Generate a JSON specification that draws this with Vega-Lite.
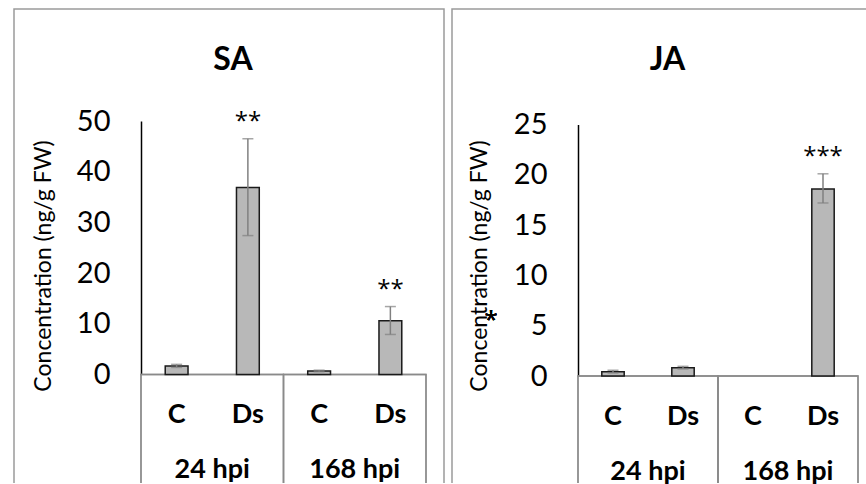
{
  "$schema": "https://vega.github.io/schema/vega-lite/v6.json",
  "padding": {"left": 13, "top": 8, "right": 0, "bottom": 0},
  "spacing": 6,
  "config": {"font": "Lato", "background": "white"},
  "hconcat": [
    {
      "width": 430,
      "height": 474,
      "view": {"stroke": "#9a9a9a", "strokeWidth": 1.5, "strokeDash": [904, 430, 474]},
      "title": {"text": "SA", "fontSize": 32, "fontWeight": "bold", "color": "#000", "anchor": "middle", "frame": "group", "offset": -68, "dx": 4},
      "data": {"values": [
        {"grp": "24 hpi", "key": "24 hpi|C", "mean": 1.7, "lo": 1.4, "hi": 2.0, "sig": ""},
        {"grp": "24 hpi", "key": "24 hpi|Ds", "mean": 36.9, "lo": 27.4, "hi": 46.5, "sig": "**"},
        {"grp": "168 hpi", "key": "168 hpi|C", "mean": 0.7, "lo": 0.55, "hi": 0.85, "sig": ""},
        {"grp": "168 hpi", "key": "168 hpi|Ds", "mean": 10.6, "lo": 7.9, "hi": 13.4, "sig": "**"}
      ]},
      "layer": [
        {
          "mark": {"type": "rect", "clip": true, "fillOpacity": 0, "stroke": "#8a8a8a", "strokeWidth": 1.3},
          "encoding": {
            "x": {"field": "grp", "type": "nominal", "sort": ["24 hpi", "168 hpi"],
                  "scale": {"domain": ["24 hpi", "168 hpi"], "range": [127, 412], "paddingInner": 0, "paddingOuter": 0},
                  "axis": {"orient": "bottom", "offset": -108.5, "title": null, "domain": false, "ticks": false, "labelPadding": 82, "labelFontSize": 27, "labelFontWeight": "bold", "labelColor": "#000", "labelAngle": 0}},
            "y": {"datum": 0, "type": "quantitative",
                  "scale": {"domain": [0, 50], "range": [365.5, 112], "nice": false},
                  "axis": {"orient": "left", "offset": -127, "values": [0, 10, 20, 30, 40, 50], "grid": false, "ticks": false, "tickSize": 0, "domainColor": "#000", "domainWidth": 1.5, "labelPadding": 31, "labelFontSize": 29, "labelColor": "#000", "title": "Concentration (ng/g FW)", "titleFontSize": 23, "titleFontWeight": "normal", "titleColor": "#000", "titleX": -86, "titleY": 256.5}},
            "y2": {"datum": -40}
          }
        },
        {
          "encoding": {
            "x": {"field": "key", "type": "nominal", "sort": ["24 hpi|C", "24 hpi|Ds", "168 hpi|C", "168 hpi|Ds"],
                  "scale": {"domain": ["24 hpi|C", "24 hpi|Ds", "168 hpi|C", "168 hpi|Ds"], "range": [127, 412], "paddingInner": 0.68, "paddingOuter": 0.34},
                  "axis": {"orient": "bottom", "offset": -108.5, "title": null, "domain": false, "ticks": false, "labelPadding": 27, "labelFontSize": 27, "labelFontWeight": "bold", "labelColor": "#000", "labelAngle": 0, "labelExpr": "split(datum.label, '|')[1]"}}
          },
          "layer": [
            {"mark": {"type": "bar", "fill": "#b8b8b8", "stroke": "#1a1a1a", "strokeWidth": 1.5},
             "encoding": {"y": {"field": "mean", "type": "quantitative"}}},
            {"mark": {"type": "rule", "color": "#808080", "strokeWidth": 1.5},
             "encoding": {"y": {"field": "lo", "type": "quantitative"}, "y2": {"field": "hi"}}},
            {"mark": {"type": "tick", "color": "#808080", "thickness": 1.5, "size": 11, "orient": "horizontal"},
             "encoding": {"y": {"field": "hi", "type": "quantitative"}}},
            {"mark": {"type": "tick", "color": "#808080", "thickness": 1.5, "size": 11, "orient": "horizontal"},
             "encoding": {"y": {"field": "lo", "type": "quantitative"}}},
            {"transform": [{"filter": "datum.sig != ''"}],
             "mark": {"type": "text", "font": "Open Sans", "fontSize": 24, "baseline": "alphabetic", "dy": -10, "color": "#000"},
             "encoding": {"y": {"field": "hi", "type": "quantitative"}, "text": {"field": "sig"}}}
          ]
        }
      ],
      "resolve": {"scale": {"x": "independent"}, "axis": {"x": "independent"}}
    },
    {
      "width": 415,
      "height": 474,
      "view": {"stroke": "#9a9a9a", "strokeWidth": 1.5, "strokeDash": [415, 889, 474]},
      "title": {"text": "JA", "fontSize": 32, "fontWeight": "bold", "color": "#000", "anchor": "middle", "frame": "group", "offset": -68, "dx": 8},
      "data": {"values": [
        {"grp": "24 hpi", "key": "24 hpi|C", "mean": 0.43, "lo": 0.3, "hi": 0.57, "sig": ""},
        {"grp": "24 hpi", "key": "24 hpi|Ds", "mean": 0.83, "lo": 0.7, "hi": 0.96, "sig": ""},
        {"grp": "168 hpi", "key": "168 hpi|C", "mean": 0, "lo": 0, "hi": 0, "sig": ""},
        {"grp": "168 hpi", "key": "168 hpi|Ds", "mean": 18.6, "lo": 17.2, "hi": 20.1, "sig": "***"}
      ]},
      "layer": [
        {
          "mark": {"type": "rect", "clip": true, "fillOpacity": 0, "stroke": "#8a8a8a", "strokeWidth": 1.3},
          "encoding": {
            "x": {"field": "grp", "type": "nominal", "sort": ["24 hpi", "168 hpi"],
                  "scale": {"domain": ["24 hpi", "168 hpi"], "range": [126, 406], "paddingInner": 0, "paddingOuter": 0},
                  "axis": {"orient": "bottom", "offset": -107, "title": null, "domain": false, "ticks": false, "labelPadding": 82, "labelFontSize": 27, "labelFontWeight": "bold", "labelColor": "#000", "labelAngle": 0}},
            "y": {"datum": 0, "type": "quantitative",
                  "scale": {"domain": [0, 25], "range": [367, 115.5], "nice": false},
                  "axis": {"orient": "left", "offset": -126, "values": [0, 5, 10, 15, 20, 25], "grid": false, "ticks": false, "tickSize": 0, "domainColor": "#000", "domainWidth": 1.5, "labelPadding": 31, "labelFontSize": 29, "labelColor": "#000", "title": "Concentration (ng/g FW)", "titleFontSize": 23, "titleFontWeight": "normal", "titleColor": "#000", "titleX": -87, "titleY": 256.5}},
            "y2": {"datum": -20}
          }
        },
        {
          "encoding": {
            "x": {"field": "key", "type": "nominal", "sort": ["24 hpi|C", "24 hpi|Ds", "168 hpi|C", "168 hpi|Ds"],
                  "scale": {"domain": ["24 hpi|C", "24 hpi|Ds", "168 hpi|C", "168 hpi|Ds"], "range": [126, 406], "paddingInner": 0.68, "paddingOuter": 0.34},
                  "axis": {"orient": "bottom", "offset": -107, "title": null, "domain": false, "ticks": false, "labelPadding": 27, "labelFontSize": 27, "labelFontWeight": "bold", "labelColor": "#000", "labelAngle": 0, "labelExpr": "split(datum.label, '|')[1]"}}
          },
          "layer": [
            {"transform": [{"filter": "datum.mean > 0"}],
             "mark": {"type": "bar", "fill": "#b8b8b8", "stroke": "#1a1a1a", "strokeWidth": 1.5},
             "encoding": {"y": {"field": "mean", "type": "quantitative"}}},
            {"transform": [{"filter": "datum.mean > 0"}],
             "mark": {"type": "rule", "color": "#808080", "strokeWidth": 1.5},
             "encoding": {"y": {"field": "lo", "type": "quantitative"}, "y2": {"field": "hi"}}},
            {"transform": [{"filter": "datum.mean > 0"}],
             "mark": {"type": "tick", "color": "#808080", "thickness": 1.5, "size": 11, "orient": "horizontal"},
             "encoding": {"y": {"field": "hi", "type": "quantitative"}}},
            {"transform": [{"filter": "datum.mean > 0"}],
             "mark": {"type": "tick", "color": "#808080", "thickness": 1.5, "size": 11, "orient": "horizontal"},
             "encoding": {"y": {"field": "lo", "type": "quantitative"}}},
            {"transform": [{"filter": "datum.sig != ''"}],
             "mark": {"type": "text", "font": "Open Sans", "fontSize": 24, "baseline": "alphabetic", "dy": -10, "color": "#000"},
             "encoding": {"y": {"field": "hi", "type": "quantitative"}, "text": {"field": "sig"}}},
            {"mark": {"type": "text", "font": "Open Sans", "fontSize": 24, "baseline": "alphabetic", "dx": -122, "color": "#000"},
             "encoding": {"y": {"datum": 4.8, "type": "quantitative"}, "x": {"datum": "24 hpi|C"}, "text": {"value": "*"}}}
          ]
        }
      ],
      "resolve": {"scale": {"x": "independent"}, "axis": {"x": "independent"}}
    }
  ]
}
